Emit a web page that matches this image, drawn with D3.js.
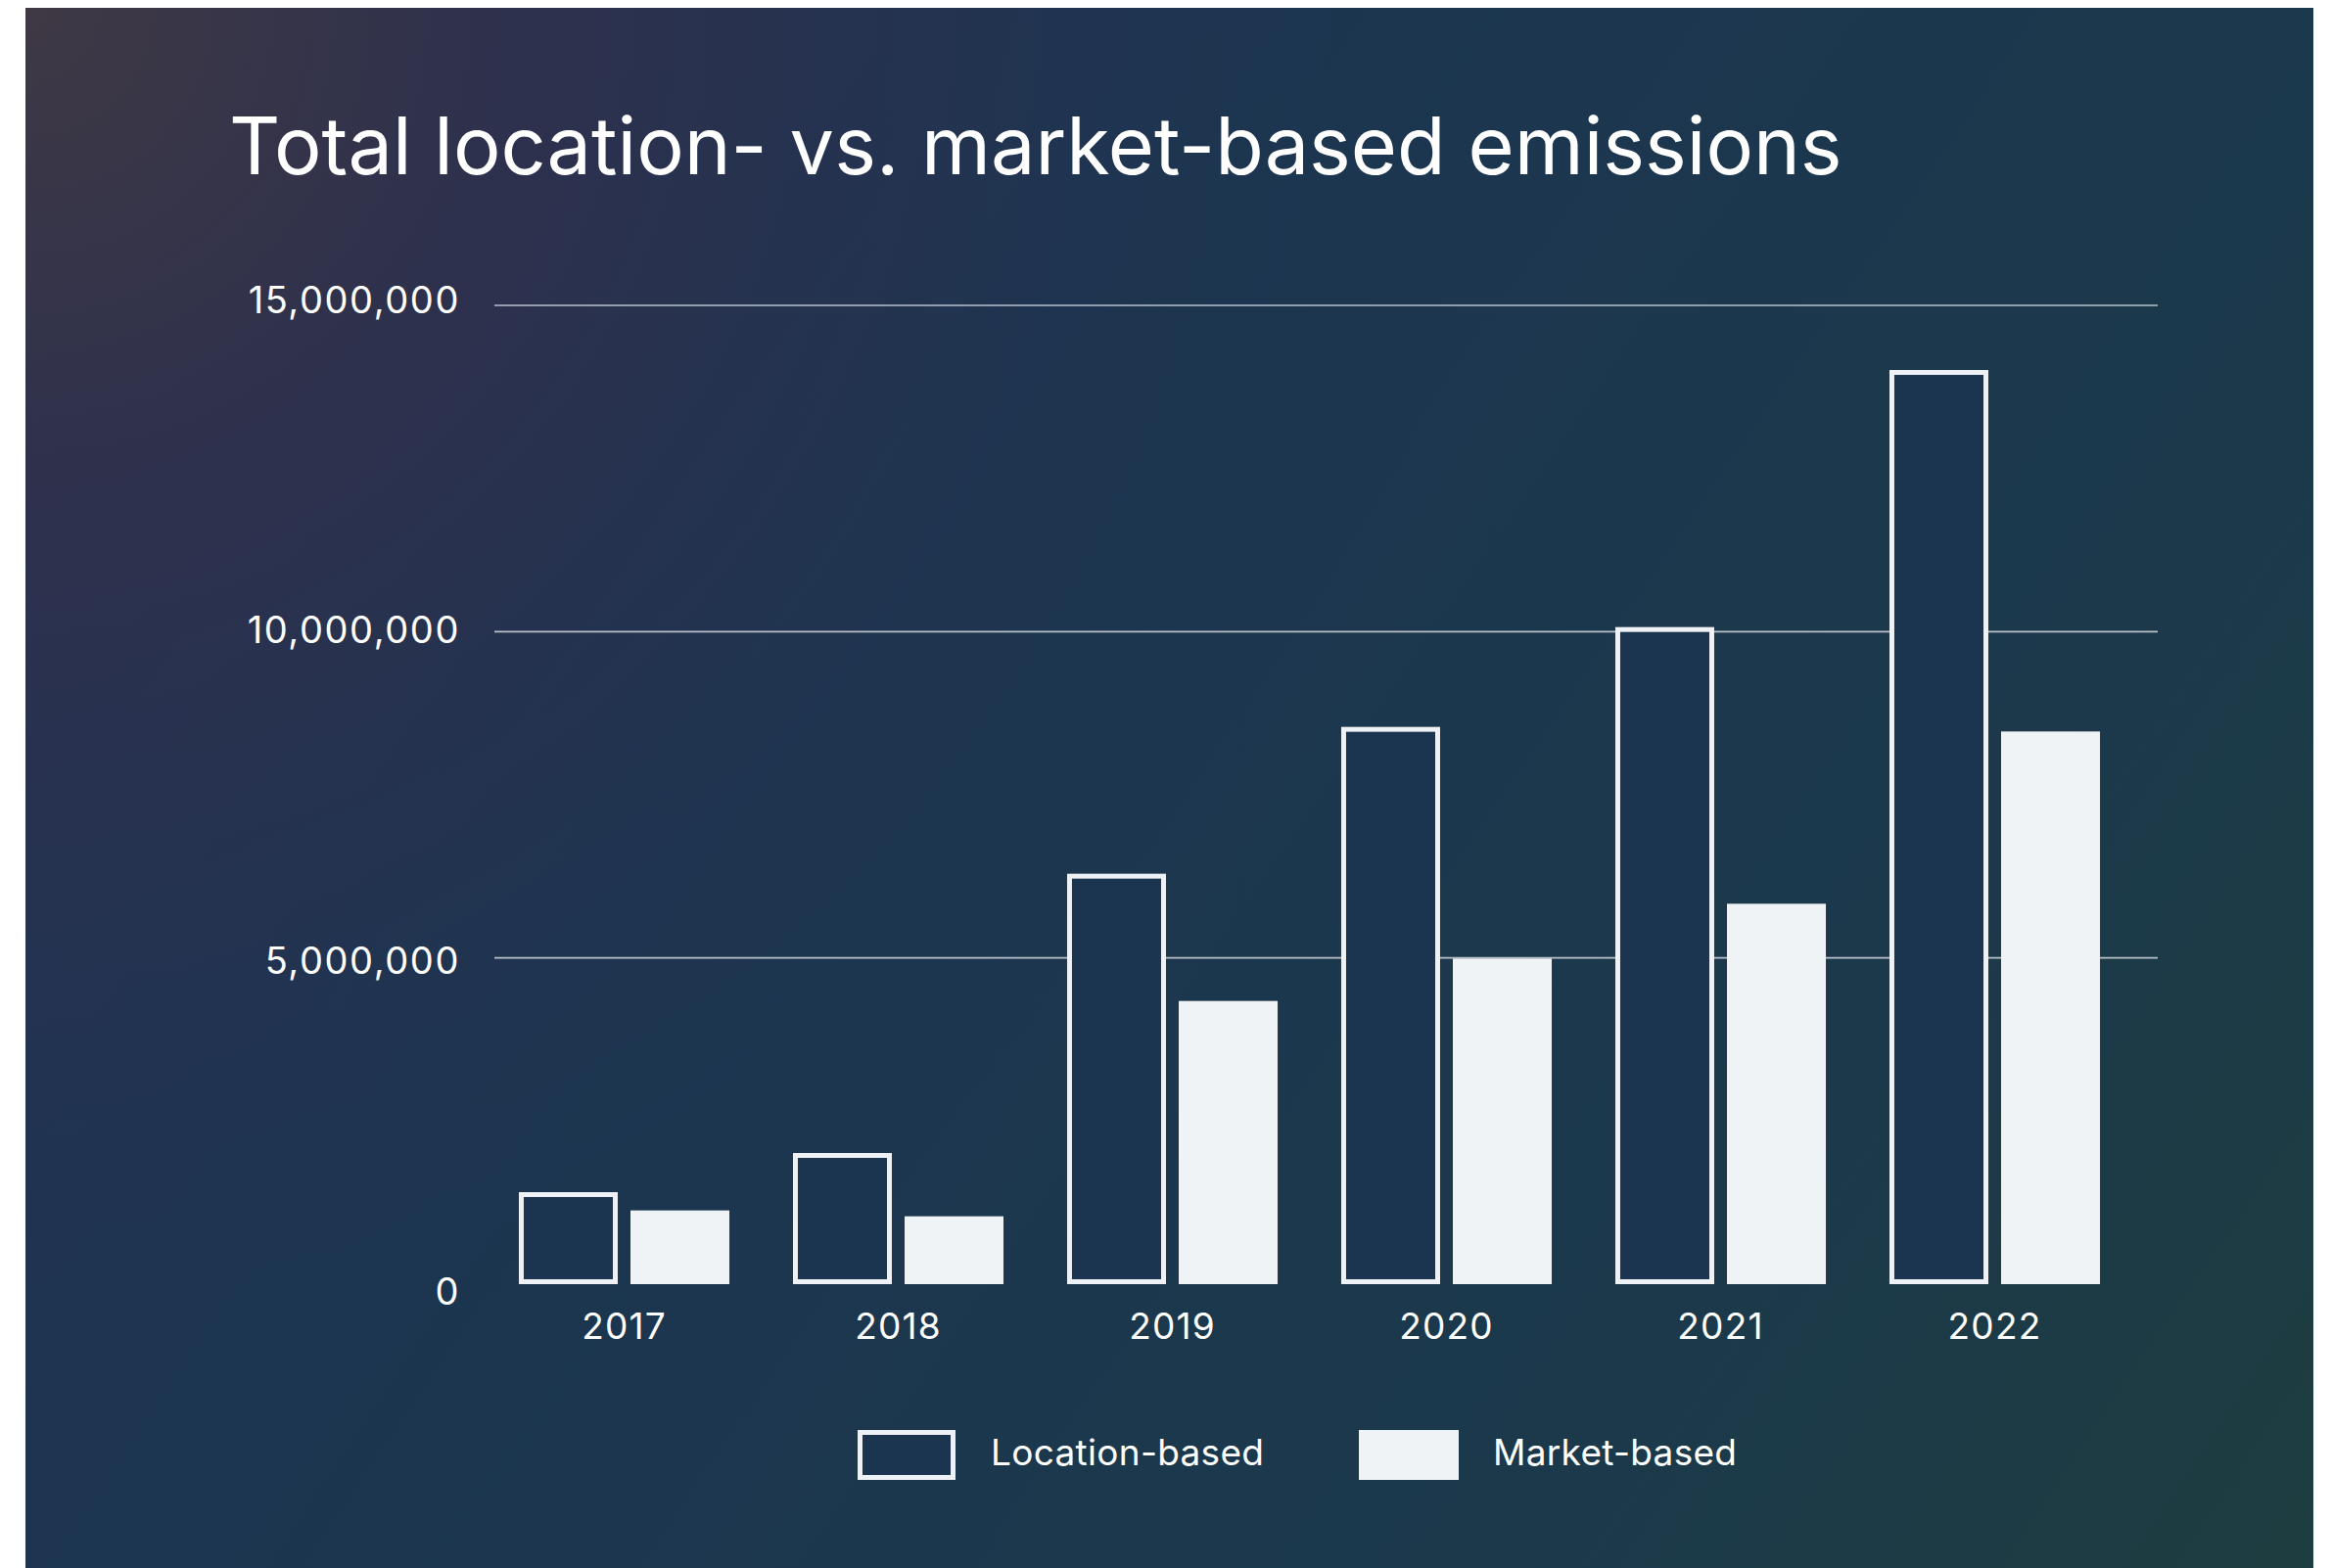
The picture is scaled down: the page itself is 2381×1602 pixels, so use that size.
<!DOCTYPE html>
<html>
<head>
<meta charset="utf-8">
<script src="https://cdn.jsdelivr.net/npm/d3@7"></script>
<style>
  html, body { margin: 0; padding: 0; background: #ffffff; }
  svg { display: block; }
  text { font-family: Inter, "Noto Sans", sans-serif; fill: #ffffff; }
</style>
</head>
<body>
<div id="chart"></div>
<script>
// data
const years = ['2017', '2018', '2019', '2020', '2021', '2022'];
const series = ['Location-based', 'Market-based'];
const locationBased = [1410000, 2010000, 6290000, 8540000, 10070000, 14010000];
const marketBased = [1130000, 1040000, 4340000, 4990000, 5830000, 8470000];
const yTicks = [0, 5000000, 10000000, 15000000];
const titleText = 'Total location- vs. market-based emissions';

const W = 2381, H = 1602;
const px = 26, py = 8, pw = 2337;

const svg = d3.select('#chart').append('svg')
  .attr('width', W).attr('height', H);

const defs = svg.append('defs');
const grad = defs.append('linearGradient')
  .attr('id', 'bg-grad')
  .attr('gradientUnits', 'userSpaceOnUse')
  .attr('x1', px).attr('y1', py).attr('x2', px + pw).attr('y2', H);
[[0, '#263252'], [0.35, '#1c3550'], [0.75, '#1b394b'], [1, '#1e3d40']].forEach(s => {
  grad.append('stop').attr('offset', s[0]).attr('stop-color', s[1]);
});

// purple tint in the top-left corner
const glow = defs.append('radialGradient')
  .attr('id', 'bg-glow')
  .attr('gradientUnits', 'userSpaceOnUse')
  .attr('cx', px).attr('cy', py).attr('r', 1500);
[[0, '#3f3944', 1], [0.35, '#30304c', 0.8], [0.7, '#283150', 0.3], [1, '#1c3550', 0]].forEach(s => {
  glow.append('stop').attr('offset', s[0]).attr('stop-color', s[1]).attr('stop-opacity', s[2]);
});

// background panel
svg.append('rect')
  .attr('x', px).attr('y', py)
  .attr('width', pw).attr('height', H - py)
  .attr('fill', 'url(#bg-grad)');
svg.append('rect')
  .attr('x', px).attr('y', py)
  .attr('width', pw).attr('height', H - py)
  .attr('fill', 'url(#bg-glow)');

// title
svg.append('text')
  .attr('x', 234).attr('y', 178)
  .style('font-size', '81px')
  .style('font-weight', 400)
  .text(titleText);

// scales
const x = d3.scaleBand()
  .domain(years)
  .range([497.5, 2177.5])
  .paddingInner(0.232)
  .paddingOuter(0.116);

const xSub = d3.scaleBand()
  .domain(series)
  .range([0, x.bandwidth()])
  .paddingInner(0.114);

const y = d3.scaleLinear()
  .domain([0, 15000000])
  .range([1312, 312]);

// labels sit on a slightly wider spacing than the grid
const yLabel = d3.scaleLinear()
  .domain([0, 15000000])
  .range([1319, 306]);

// gridlines
svg.append('g')
  .selectAll('line')
  .data(yTicks.filter(d => d > 0))
  .join('line')
  .attr('x1', 505).attr('x2', 2204)
  .attr('y1', d => y(d)).attr('y2', d => y(d))
  .attr('stroke', '#b9c0c8')
  .attr('stroke-width', 1.6);

// y labels
svg.append('g')
  .selectAll('text')
  .data(yTicks)
  .join('text')
  .attr('x', 470)
  .attr('y', d => yLabel(d))
  .attr('dy', '0.36em')
  .attr('text-anchor', 'end')
  .style('font-size', '38px')
  .style('letter-spacing', '1.6px')
  .text(d => d3.format(',')(d));

// bars
const rows = years.map((yr, i) => ({ year: yr, loc: locationBased[i], mkt: marketBased[i] }));

const groups = svg.append('g')
  .selectAll('g')
  .data(rows)
  .join('g')
  .attr('transform', d => 'translate(' + x(d.year) + ',0)');

const sw = 5;
groups.append('rect')
  .attr('class', 'loc')
  .attr('x', xSub('Location-based') + sw / 2)
  .attr('y', d => y(d.loc) + sw / 2)
  .attr('width', xSub.bandwidth() - sw)
  .attr('height', d => y(0) - y(d.loc) - sw)
  .attr('fill', '#1b3550')
  .attr('stroke', '#eef2f6')
  .attr('stroke-width', sw);

groups.append('rect')
  .attr('class', 'mkt')
  .attr('x', xSub('Market-based'))
  .attr('y', d => y(d.mkt))
  .attr('width', xSub.bandwidth())
  .attr('height', d => y(0) - y(d.mkt))
  .attr('fill', '#eff3f6');

// x labels
svg.append('g')
  .selectAll('text')
  .data(years)
  .join('text')
  .attr('x', d => x(d) + x.bandwidth() / 2)
  .attr('y', 1368)
  .attr('text-anchor', 'middle')
  .style('font-size', '37px')
  .style('letter-spacing', '1.2px')
  .text(d => d);

// legend
const legendX = [876, 1388];
const legend = svg.append('g')
  .selectAll('g')
  .data(series)
  .join('g')
  .attr('transform', (d, i) => 'translate(' + legendX[i] + ',1461)');

legend.append('rect')
  .attr('x', (d, i) => i === 0 ? sw / 2 : 0)
  .attr('y', (d, i) => i === 0 ? sw / 2 : 0)
  .attr('width', (d, i) => i === 0 ? 100 - sw : 102)
  .attr('height', (d, i) => i === 0 ? 51 - sw : 51)
  .attr('fill', (d, i) => i === 0 ? '#1b3550' : '#eff3f6')
  .attr('stroke', (d, i) => i === 0 ? '#eef2f6' : 'none')
  .attr('stroke-width', sw);

legend.append('text')
  .attr('x', (d, i) => i === 0 ? 136 : 137)
  .attr('y', 36)
  .style('font-size', '37px')
  .style('letter-spacing', '0.3px')
  .text(d => d);
</script>
</body>
</html>
